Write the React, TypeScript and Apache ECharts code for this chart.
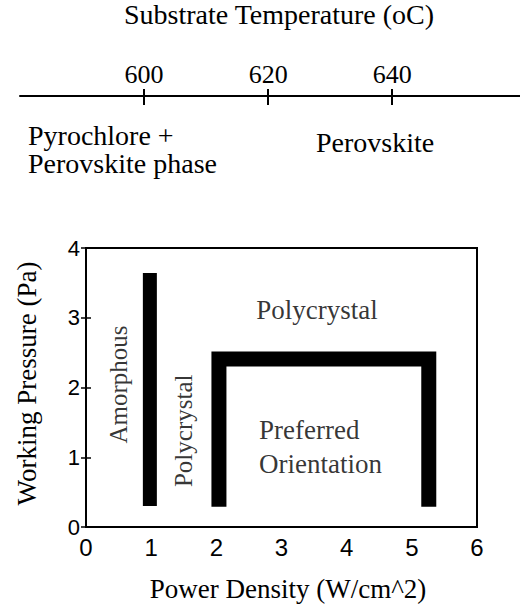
import React, { useEffect, useRef } from "react";
import * as echarts from "echarts";

// ---- data ----
const powerRange = [0, 6];
const pressureRange = [0, 4];
const temperatureRange = [580, 660.6];
const temperatureTicks = [600, 620, 640];

// boundary lines (Power Density W/cm^2, Working Pressure Pa)
const amorphousBoundary = [
  [0.98, 0.3],
  [0.98, 3.64],
];
const preferredBoundary = [
  [2.04, 0.29],
  [2.04, 2.41],
  [5.26, 2.41],
  [5.26, 0.29],
];

// region labels
const regionNames = ["Polycrystal", "Amorphous", "Polycrystal", "Preferred", "Orientation"];
const regionX = [3.545, 0.496, 1.493, 2.655, 2.655];
const regionY = [3.108, 2.043, 1.379, 1.388, 0.909];
const regionRotate = [0, 90, 90, 0, 0];
const regionAlign = ["center", "center", "center", "left", "left"];

// phase annotations of the temperature scale
const phaseTexts = ["Pyrochlore +", "Perovskite phase", "Perovskite"];
const temperatureTitle = "Substrate Temperature (oC)";

const SERIF = "'Liberation Serif', 'Times New Roman', serif";
const SANS = "'Liberation Sans', Arial, sans-serif";

export default function App() {
  const ref = useRef<HTMLDivElement>(null);

  useEffect(() => {
    if (!ref.current) return;
    const chart = echarts.init(ref.current, null, { renderer: "svg" });

    const regionData = regionNames.map((n, i) => ({
      value: [regionX[i], regionY[i]],
      name: n,
      label: {
        show: true,
        formatter: n,
        rotate: regionRotate[i],
        position: regionAlign[i] === "left" ? "right" : "inside",
        distance: 0,
        fontSize: regionRotate[i] ? 25 : 27,
        fontFamily: SERIF,
        color: "#000",
      },
    }));

    const titleStyle = {
      fontFamily: SERIF,
      fontSize: 28,
      fontWeight: "normal",
      color: "#000",
      lineHeight: 28,
    };

    chart.setOption({
      animation: false,
      backgroundColor: "#fff",
      title: [
        { text: temperatureTitle, left: 124, top: 0, padding: 0, textStyle: titleStyle },
        { text: phaseTexts[0], left: 28, top: 121, padding: 0, textStyle: titleStyle },
        { text: phaseTexts[1], left: 28, top: 149, padding: 0, textStyle: titleStyle },
        { text: phaseTexts[2], left: 316, top: 128, padding: 0, textStyle: titleStyle },
      ],
      grid: [
        {
          left: 86,
          top: 248,
          width: 391,
          height: 279,
          show: true,
          borderColor: "#000",
          borderWidth: 2,
          backgroundColor: "transparent",
        },
        { left: 20, right: 0, top: 50, height: 46 },
      ],
      xAxis: [
        {
          gridIndex: 0,
          type: "value",
          min: powerRange[0],
          max: powerRange[1],
          interval: 1,
          name: "Power Density (W/cm^2)",
          nameLocation: "middle",
          nameGap: 48,
          nameTextStyle: {
            fontFamily: SERIF,
            fontSize: 27,
            color: "#000",
            padding: [0, 0, 0, 13],
          },
          axisLine: { show: true, onZero: false, lineStyle: { color: "#000", width: 2 } },
          axisTick: { show: false },
          splitLine: { show: false },
          axisLabel: { fontFamily: SANS, fontSize: 24, color: "#000", margin: 8 },
        },
        {
          gridIndex: 1,
          type: "value",
          position: "bottom",
          min: temperatureRange[0],
          max: temperatureRange[1],
          axisLine: { show: true, onZero: false, lineStyle: { color: "#000", width: 2 } },
          axisTick: {
            show: true,
            inside: true,
            length: 7,
            customValues: temperatureTicks,
            lineStyle: { color: "#000", width: 2 },
          },
          splitLine: { show: false },
          axisLabel: {
            show: true,
            inside: true,
            margin: 9,
            customValues: temperatureTicks,
            fontFamily: SERIF,
            fontSize: 26,
            color: "#000",
          },
        },
        {
          gridIndex: 1,
          type: "value",
          position: "bottom",
          min: temperatureRange[0],
          max: temperatureRange[1],
          axisLine: { show: false, onZero: false },
          axisTick: {
            show: true,
            inside: false,
            length: 9,
            customValues: temperatureTicks,
            lineStyle: { color: "#000", width: 2 },
          },
          splitLine: { show: false },
          axisLabel: { show: false },
        },
      ],
      yAxis: [
        {
          gridIndex: 0,
          type: "value",
          position: "left",
          min: pressureRange[0],
          max: pressureRange[1],
          interval: 1,
          name: "Working Pressure (Pa)",
          nameLocation: "middle",
          nameGap: 46,
          nameTextStyle: {
            fontFamily: SERIF,
            fontSize: 27,
            color: "#000",
            padding: [0, 0, 0, 8],
          },
          axisLine: { show: true, onZero: false, lineStyle: { color: "#000", width: 2 } },
          axisTick: { show: true, length: 5, lineStyle: { color: "#000", width: 1.5 } },
          splitLine: { show: false },
          axisLabel: { fontFamily: SANS, fontSize: 22, color: "#000", margin: 6 },
        },
        { gridIndex: 1, type: "value", show: false, min: 0, max: 1 },
        {
          gridIndex: 0,
          type: "value",
          position: "left",
          min: pressureRange[0],
          max: pressureRange[1],
          interval: 1,
          axisLine: { show: false, onZero: false },
          axisTick: { show: true, inside: true, length: 5, lineStyle: { color: "#000", width: 1.5 } },
          axisLabel: { show: false },
          splitLine: { show: false },
        },
      ],
      series: [
        {
          type: "line",
          xAxisIndex: 0,
          yAxisIndex: 0,
          data: amorphousBoundary,
          showSymbol: false,
          symbol: "none",
          lineStyle: { color: "#000", width: 14, cap: "butt" },
          silent: true,
        },
        {
          type: "line",
          xAxisIndex: 0,
          yAxisIndex: 0,
          data: preferredBoundary,
          showSymbol: false,
          symbol: "none",
          lineStyle: { color: "#000", width: 15, cap: "butt", join: "miter" },
          silent: true,
        },
        {
          type: "scatter",
          xAxisIndex: 0,
          yAxisIndex: 0,
          symbolSize: 0,
          data: regionData,
          silent: true,
        },
      ],
    });

    return () => chart.dispose();
  }, []);

  return (
    <div
      ref={ref}
      style={{ position: "absolute", left: 0, top: 0, width: 520, height: 606 }}
    />
  );
}
